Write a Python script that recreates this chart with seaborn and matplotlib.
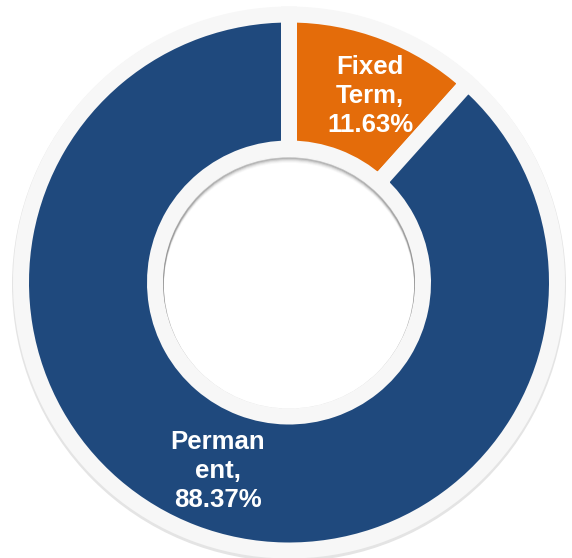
import matplotlib
matplotlib.use("Agg")
import matplotlib.pyplot as plt
import seaborn as sns
import numpy as np
from matplotlib.patches import Circle

categories = ["Fixed Term", "Permanent"]
values = [11.63, 88.37]
labels = ["Fixed\nTerm,\n11.63%", "Perman\nent,\n88.37%"]
colors = ["#E46C0A", "#1F497D"]

sns.set_theme(style="white")
plt.rcParams['font.family'] = ['Liberation Sans', 'DejaVu Sans']

W, H = 572, 558
fig = plt.figure(figsize=(W / 100, H / 100), dpi=100)
ax = fig.add_axes([0, 0, 1, 1])

cx, cy = 289, H - 282.5
R = 268
wid = 134
edge_px = 16
lw = edge_px * 72 / 100

# faint outer outline / shadow
ax.add_patch(Circle((cx, cy - 2), R + edge_px / 2 + 1, facecolor="#E4E4E4", edgecolor="none", zorder=0))

wedges, _ = ax.pie(values, colors=colors, startangle=90, counterclock=False,
                   radius=R, center=(cx, cy),
                   wedgeprops=dict(width=wid, edgecolor="#F7F7F7", linewidth=lw),
                   frame=True)
ax.set_xlim(0, W)
ax.set_ylim(0, H)
ax.set_axis_off()
ax.set_aspect("equal")

# hole with soft inner shadow under its top rim
r_in = R - wid - edge_px / 2
hole = Circle((cx, cy), r_in, facecolor="white", edgecolor="none", zorder=5)
ax.add_patch(hole)
for i, a in enumerate([0.30, 0.20, 0.12, 0.06, 0.03]):
    c = Circle((cx, cy - 1.5 - i * 1.0), r_in, facecolor="none",
               edgecolor="#444444", alpha=a, linewidth=1.2, zorder=6)
    ax.add_patch(c)
    c.set_clip_path(hole)

ax.text(370, H - 96, labels[0], color="white", fontsize=18.5, fontweight="bold",
        ha="center", va="center", linespacing=1.25, zorder=10)
ax.text(218, H - 471, labels[1], color="white", fontsize=18.5, fontweight="bold",
        ha="center", va="center", linespacing=1.25, zorder=10)

fig.savefig("out.png", dpi=100, facecolor="white")
